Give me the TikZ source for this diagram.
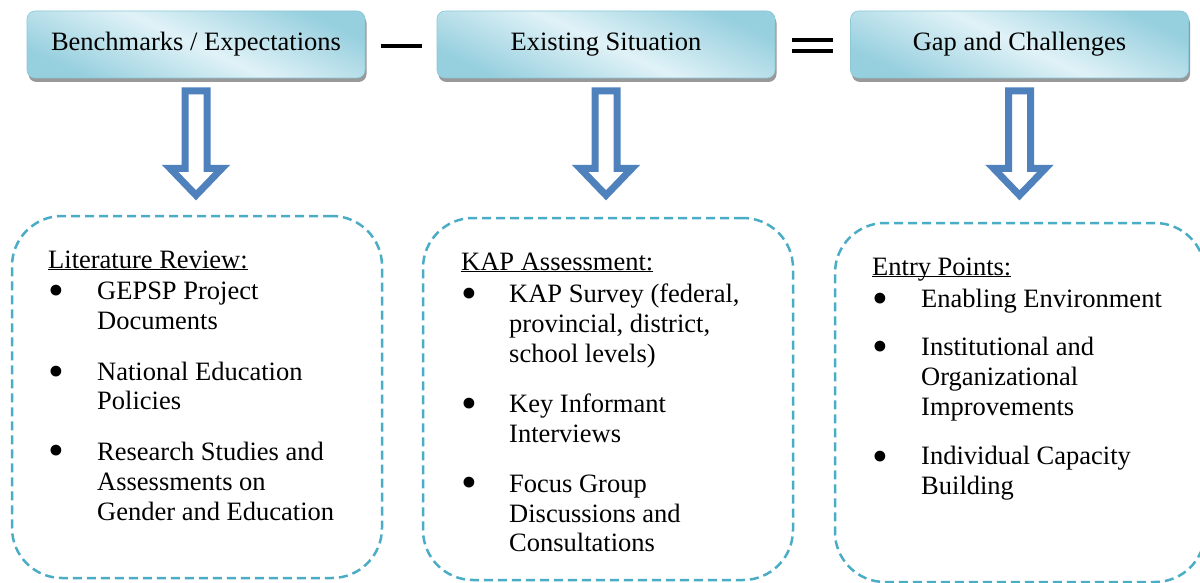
\documentclass[tikz,border=0pt]{standalone}
\usepackage{fontspec}
\setmainfont{Liberation Serif}
\usetikzlibrary{positioning,calc,shadows}
\definecolor{arrowblue}{RGB}{79,129,189}
\definecolor{dashaqua}{RGB}{75,172,198}
\definecolor{boxdark}{RGB}{150,207,222}
\definecolor{boxlight}{RGB}{224,242,247}
\definecolor{boxedge}{RGB}{140,200,216}
\newcommand{\bul}{\hspace*{0.5pt}\raisebox{-6pt}{\scalebox{1.7}{\textbullet}}}
\newcommand{\headline}[1]{\multicolumn{2}{@{}l@{}}{\underline{\smash{#1}}}\\[2pt]}

\begin{document}
\begin{tikzpicture}[
            x=1pt, y=-1pt,
            every node/.style={on grid, font=\fontsize{26.5}{30}\selectfont},
            stage/.style={rectangle, rounded corners=8pt, draw=boxedge, line width=0.6pt,
                minimum width=338pt, minimum height=67pt, inner sep=0pt,
                top color=boxdark, bottom color=boxdark, middle color=boxlight, shading angle=-25,
                drop shadow={shadow xshift=1.5pt, shadow yshift=-4pt, fill=black!40, opacity=1}},
            dashbox/.style={rectangle, rounded corners=50pt, draw=dashaqua, line width=2.5pt,
                dash pattern=on 9pt off 5pt, minimum width=370pt, inner sep=0pt},
            list/.style={anchor=base west, inner sep=0pt},
            sign/.style={line width=4pt},
            hollow/.style={draw=arrowblue, line width=7pt, fill=white, line join=miter}
        ]
        \useasboundingbox (0,0) rectangle (1200,583);

        % Draw stages %
        \node[stage] (bench) at (196,44.5) {Benchmarks / Expectations};
        \node[stage, right=410pt of bench] (exist) {Existing Situation};
        \node[stage, right=413.5pt of exist] (gap) {Gap and Challenges};

        % Draw signs %
        \coordinate (minus) at ($(bench.east)!0.5!(exist.west)$);
        \coordinate (equals) at ($(exist.east)!0.5!(gap.west)$);
        \draw[sign] ($(minus)+(-20.5,1.5)$) -- ($(minus)+(20.5,1.5)$);
        \draw[sign] ($(equals)+(-20.5,-4.5)$) -- ($(equals)+(20.5,-4.5)$);
        \draw[sign] ($(equals)+(-20.5,6.5)$) -- ($(equals)+(20.5,6.5)$);

        % Draw arrows %
        \foreach \n in {bench,exist,gap}
            \draw[hollow, shift={(\n.south)}] (-11,12.5) -- (-11,90) -- (-26,90)
                -- (0,117) -- (26,90) -- (11,90) -- (11,12.5) -- cycle;

        % Draw dashed boxes %
        \node[dashbox, minimum height=362pt] (lit) at (197,397) {};
        \node[dashbox, minimum height=362pt] (kap) at (608,399) {};
        \node[dashbox, minimum height=359pt] (entry) at (1020,402.5) {};

        % Lists %
        \node[list] (litlist) at (48,268) {\begin{tabular}[t]{@{}p{49pt}@{}l@{}}
            \headline{Literature Review:}
            \bul & GEPSP Project\\
                 & Documents\\[20pt]
            \bul & National Education\\
                 & Policies\\[20pt]
            \bul & Research Studies and\\
                 & Assessments on\\
                 & Gender and Education
        \end{tabular}};
        \node[list] (kaplist) at (461,270) {\begin{tabular}[t]{@{}p{48pt}@{}l@{}}
            \headline{KAP Assessment:}
            \bul & KAP Survey (federal,\\
                 & provincial, district,\\
                 & school levels)\\[20pt]
            \bul & Key Informant\\
                 & Interviews\\[20pt]
            \bul & Focus Group\\
                 & Discussions and\\
                 & Consultations
        \end{tabular}};
        \node[list] (entrylist) at (872,275) {\begin{tabular}[t]{@{}p{49pt}@{}l@{}}
            \headline{Entry Points:}
            \bul & Enabling Environment\\[18pt]
            \bul & Institutional and\\
                 & Organizational\\
                 & Improvements\\[20pt]
            \bul & Individual Capacity\\
                 & Building
        \end{tabular}};
\end{tikzpicture}
\end{document}
